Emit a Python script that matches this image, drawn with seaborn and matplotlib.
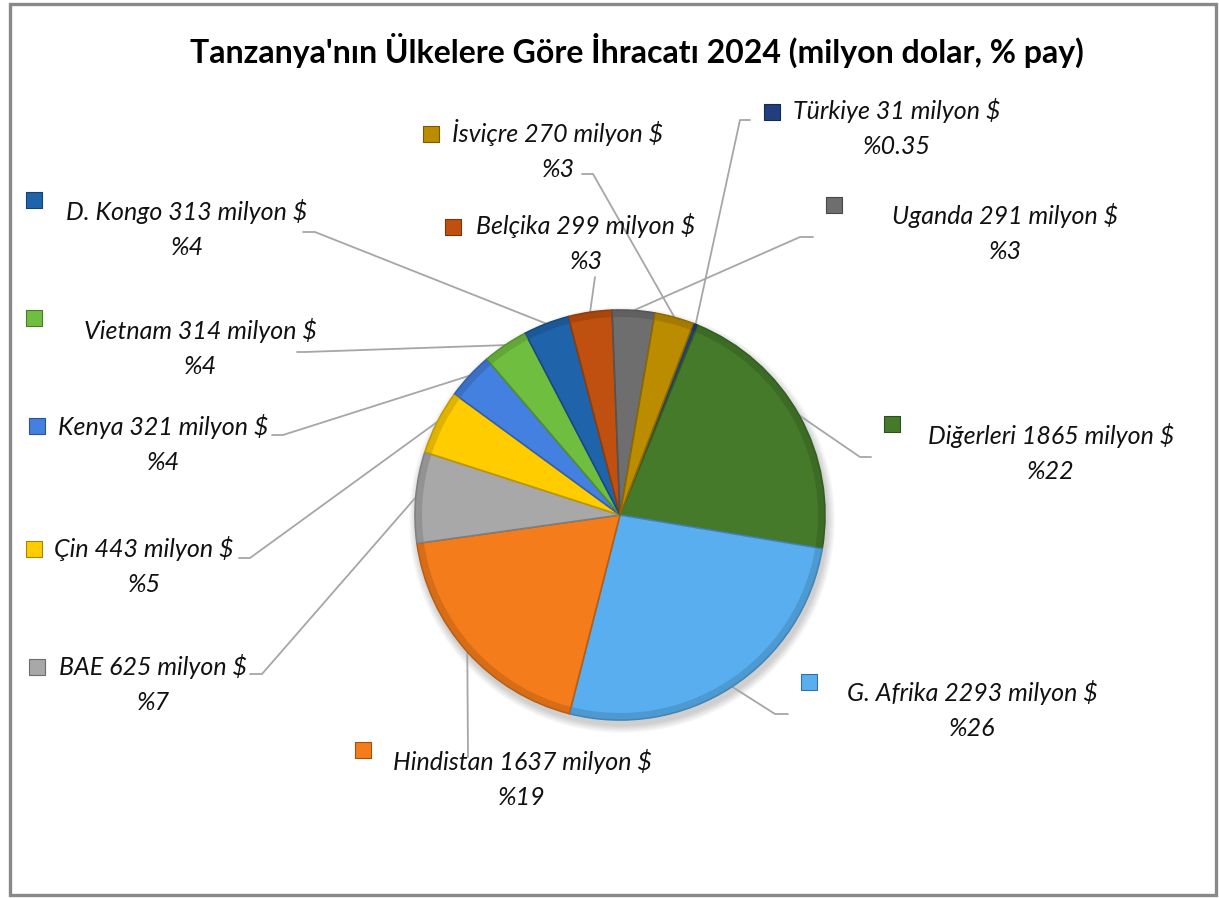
import matplotlib
matplotlib.use("Agg")
import matplotlib.pyplot as plt
import matplotlib.colors as mcolors
from matplotlib.patches import Rectangle, Circle
import numpy as np
import seaborn as sns

sns.set_style("white")
plt.rcParams['font.family'] = ['Lato', 'DejaVu Sans']

# Data, in clockwise order starting at the top of the pie
countries = ["Türkiye", "Diğerleri", "G. Afrika", "Hindistan", "BAE", "Çin",
             "Kenya", "Vietnam", "D. Kongo", "Belçika", "Uganda", "İsviçre"]
values = [31, 1865, 2293, 1637, 625, 443, 321, 314, 313, 299, 291, 270]
shares = ["%0.35", "%22", "%26", "%19", "%7", "%5",
          "%4", "%4", "%4", "%3", "%3", "%3"]
colors = ["#203f7c", "#457a2a", "#58aeee", "#f57c1a", "#a8a8a8", "#ffcc00",
          "#4480e0", "#70be3f", "#1f64aa", "#c0500f", "#6e6e6e", "#bb8c00"]

W, H = 1219, 898

# label layout in pixel coords (x, y from top): text block centre, key marker,
# leader anchor near the label and the elbow point
text_pos = [(897, 128), (1051, 453), (972, 710), (522, 779), (153, 684), (144, 566),
            (163, 444), (200, 348), (187, 229), (586, 243), (1005, 233), (558, 150)]
key_pos = [(772, 112), (892, 424), (809, 682), (363, 750), (37, 667), (34, 549),
           (37, 426), (34, 318), (34, 200), (453, 227), (834, 205), (431, 134)]
anchor_pos = [(750, 120), (871, 457), (788, 714), (468, 757), (250, 674), (239, 558),
              (272, 435), (297, 352), (303, 232), (595, 277), (813, 237), (582, 174)]
elbow_pos = [(740, 120), (860, 457), (775, 714), (468, 757), (262, 674), (250, 558),
             (283, 435), (305, 352), (315, 232), (595, 277), (800, 237), (593, 174)]


def px(p):
    return p[0], H - p[1]


def darker(c, f=0.7):
    r, g, b = mcolors.to_rgb(c)
    return (r * f, g * f, b * f)


fig = plt.figure(figsize=(W / 100, H / 100), dpi=100)
ax = fig.add_axes([0, 0, 1, 1])

center = px((620, 515))
radius = 205

# soft shadow under the pie
for k in range(8):
    ax.add_patch(Circle((center[0] + 2, center[1] - 5), radius + 8 - k, color="black",
                        alpha=0.025, lw=0, zorder=0.2))

wedges, _ = ax.pie(values, colors=colors, startangle=69, counterclock=False,
                   center=center, radius=radius,
                   wedgeprops=dict(linewidth=1.2))
for w, c in zip(wedges, colors):
    w.set_edgecolor(darker(c, 0.75))

# bevel: darker rim at the outer edge of each slice
rim, _ = ax.pie(values, colors=[darker(c, 0.8) for c in colors], startangle=69,
                counterclock=False, center=center, radius=radius,
                wedgeprops=dict(width=7, linewidth=0, alpha=0.6))

# leader lines from the label to the middle of each slice's arc
for w, a, e in zip(wedges, anchor_pos, elbow_pos):
    mid = np.deg2rad((w.theta1 + w.theta2) / 2)
    end = (center[0] + radius * np.cos(mid), center[1] + radius * np.sin(mid))
    pts = [px(a), px(e), end]
    ax.plot([p[0] for p in pts], [p[1] for p in pts], color="#a6a6a6", lw=1.3,
            zorder=0.5)

# labels and small colour keys
for name, v, s, c, tp, kp in zip(countries, values, shares, colors, text_pos, key_pos):
    x, y = px(tp)
    ax.text(x, y, f"{name} {v} milyon $\n{s}", ha="center", va="center",
            multialignment="center", fontsize=18, style="italic",
            linespacing=1.6, color="#111111")
    kx, ky = px(kp)
    ax.scatter([kx], [ky], marker="s", s=120, color=c,
               edgecolors=darker(c, 0.65), linewidths=0.8, zorder=3)

ax.text(637, H - 50, "Tanzanya'nın Ülkelere Göre İhracatı 2024 (milyon dolar, % pay)",
        ha="center", va="center", fontsize=23, fontweight="bold", color="#000000")

ax.set_xlim(0, W)
ax.set_ylim(0, H)
ax.set_aspect("equal")
ax.axis("off")

fig.patches.append(Rectangle((9.5 / W, 3.5 / H), (1215.5 - 9.5) / W, (894.5 - 3.5) / H,
                             transform=fig.transFigure, fill=False,
                             edgecolor="#898989", linewidth=2.4))

fig.savefig("out.png", dpi=100, facecolor="white")
